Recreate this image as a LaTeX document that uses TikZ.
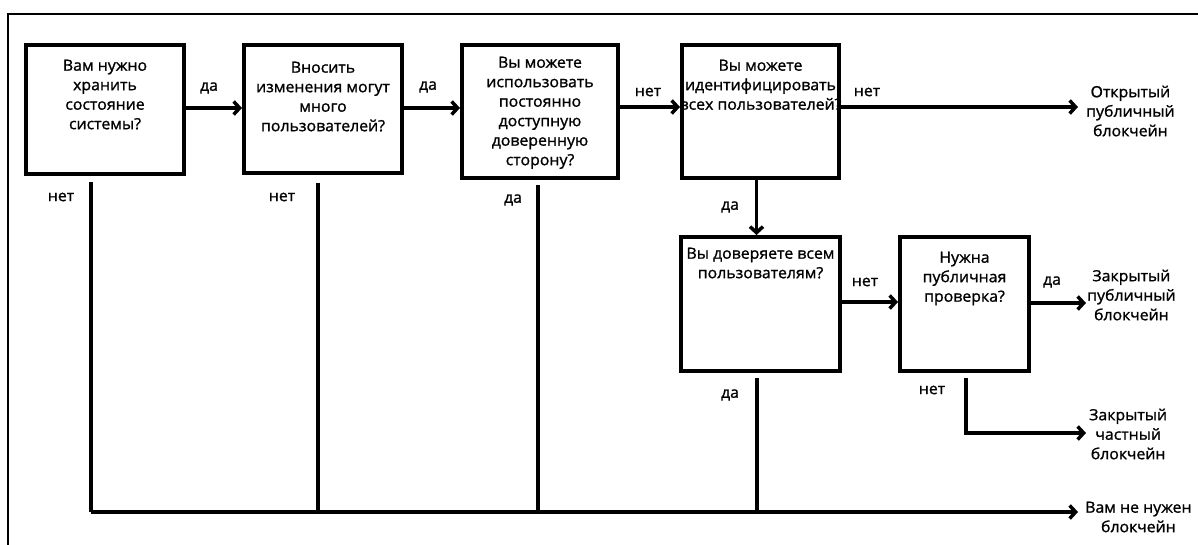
\documentclass[tikz,border=0pt]{standalone}
\usepackage{fontspec}
\setmainfont{Open Sans}[FakeStretch=1.03,FakeBold=1.2]
\usetikzlibrary{arrows.meta,shadows}
\begin{document}
\begin{tikzpicture}[x=1pt,y=-1pt,
  every node/.style={font=\fontsize{15.4}{19.5}\selectfont},
  box/.style={draw=black,line width=4pt,fill=white,minimum width=#1,inner sep=0pt,
    drop shadow={opacity=0.25,shadow xshift=1.5pt,shadow yshift=-1.5pt}},
  txt/.style={align=center,inner sep=0pt,anchor=north},
  lbl/.style={inner sep=0pt},
  ln/.style={line width=3.5pt},
  arr/.style={line width=3.5pt,-{Straight Barb[length=6pt,width=13pt]}},
  outtxt/.style={align=center,inner sep=0pt,anchor=west}
]
\useasboundingbox (0,0) rectangle (1198,545);
\draw[line width=1.5pt] (8,545) -- (8,14) -- (1198,14);

\node[box=158pt,minimum height=129pt] (b1) at (105,109.5) {};
\node[box=158pt,minimum height=128pt] (b2) at (323,109) {};
\node[box=156pt,minimum height=133pt] (b3) at (540,111.5) {};
\node[box=157pt,minimum height=133pt] (b4) at (760.5,111.5) {};
\node[box=159pt,minimum height=134pt] (b5) at (760.5,304) {};
\node[box=129pt,minimum height=134pt] (b6) at (964.5,304) {};

\node[txt] (t1) at ([yshift=-16.5pt]b1.north) {Вам нужно\\хранить\\состояние\\системы?};
\node[txt] (t2) at ([yshift=-18.5pt]b2.north) {Вносить\\изменения могут\\много\\пользователей?};
\node[txt] (t3) at ([yshift=-13.5pt]b3.north) {Вы можете\\использовать\\постоянно\\доступную\\доверенную\\сторону?};
\node[txt] (t4) at ([yshift=-16.5pt]b4.north) {Вы можете\\идентифицировать\\всех пользователей?};
\node[txt] (t5) at ([yshift=-12.5pt]b5.north) {Вы доверяете всем\\пользователям?};
\node[txt] (t6) at ([yshift=-16.5pt]b6.north) {Нужна\\публичная\\проверка?};

\node[outtxt] (o1) at (1086,111) {Открытый\\публичный\\блокчейн};
\node[outtxt] (o2) at (1087,295) {Закрытый\\публичный\\блокчейн};
\node[outtxt] (o3) at (1089,434) {Закрытый\\частный\\блокчейн};
\node[outtxt] (o4) at (1085,517) {Вам не нужен\\блокчейн};

% horizontal yes/no arrows
\draw[arr] ([yshift=-65pt]b1.north east) -- ([yshift=-65pt]b1.north east -| b2.west);
\draw[arr] ([yshift=-65pt]b2.north east) -- ([yshift=-65pt]b2.north east -| b3.west);
\draw[arr] ([yshift=-64pt]b3.north east) -- ([yshift=-64pt]b3.north east -| b4.west);
\coordinate (e1) at (1078,107);
\draw[arr] (b4.east |- e1) -- (e1);
\draw[arr] ([xshift=-4pt]b4.south) -- ([xshift=-4pt]b4.south |- b5.north);
\draw[arr] (b5.east |- 0,302) -- (b6.west |- 0,302);
\coordinate (e2) at (1086,303);
\draw[arr] (b6.east |- e2) -- (e2);

% downward lines
\coordinate (j1) at (91,512);
\coordinate (j2) at (318,512);
\coordinate (j3) at (538,512);
\coordinate (j5) at (757,512);
\coordinate (e4) at (1078,512);
\coordinate (k6) at (966,433);
\coordinate (e3) at (1086,433);
\draw[ln] (j1 |- 0,182) -- (j1);
\draw[ln] (j2 |- 0,183) -- (j2);
\draw[ln] (j3 |- 0,185) -- (j3);
\draw[ln] (j5 |- 0,378) -- (j5);
\draw[arr] (j1) -- (e4);
\draw[arr] (k6 |- 0,378) -- (k6) -- (e3);

% labels
\node[lbl] (l1) at (209,88) {да};
\node[lbl] (l2) at (428,87) {да};
\node[lbl] (l3) at (648,92) {нет};
\node[lbl] (l4) at (867,92) {нет};
\node[lbl] (l5) at (730,207) {да};
\node[lbl] (l6) at (865,282) {нет};
\node[lbl] (l7) at (1052,282) {да};
\node[lbl] (l8) at (61,197) {нет};
\node[lbl] (l9) at (282,197) {нет};
\node[lbl] (l10) at (513,200) {да};
\node[lbl] (l11) at (730,395) {да};
\node[lbl] (l12) at (932,390) {нет};
\end{tikzpicture}
\end{document}
